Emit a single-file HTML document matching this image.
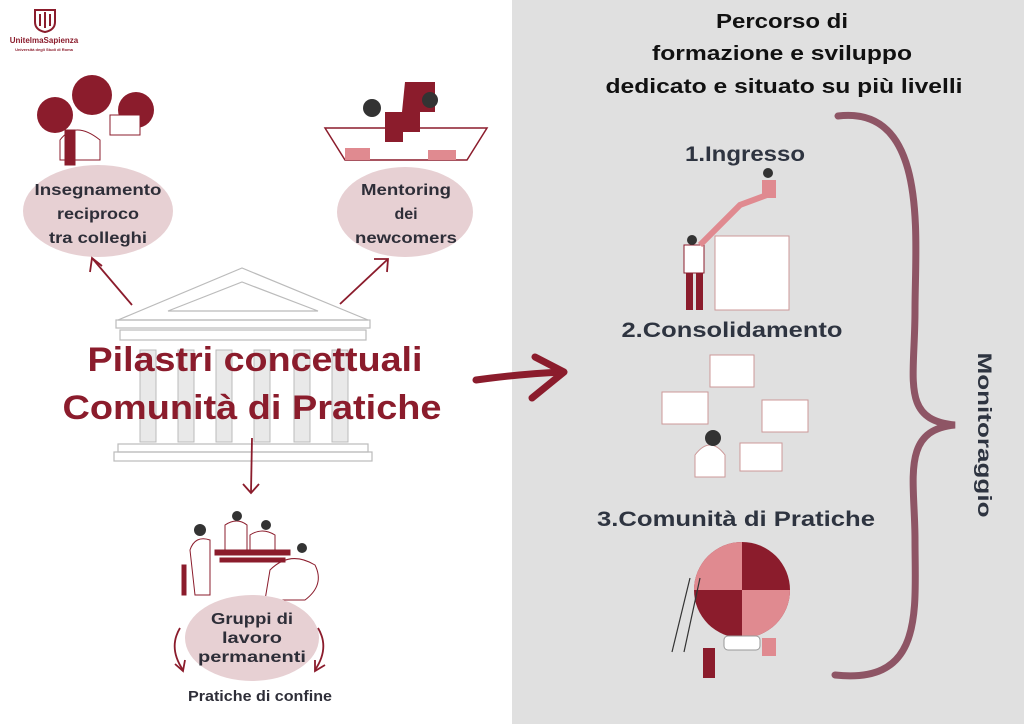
<!DOCTYPE html>
<html><head><meta charset="utf-8"><style>
html,body{margin:0;padding:0;background:#fff;}
svg{display:block;}
text{font-family:"Liberation Sans",sans-serif;font-weight:bold;}
</style></head><body>
<svg width="1024" height="724" viewBox="0 0 1024 724" xmlns="http://www.w3.org/2000/svg">
<rect x="0" y="0" width="512" height="724" fill="#ffffff"/>
<rect x="512" y="0" width="512" height="724" fill="#e0e0e0"/>

<!-- logo -->
<g fill="#8b1c2c">
<path d="M35 10 h20 v12 q0 8 -10 10 q-10 -2 -10 -10z" fill="none" stroke="#8b1c2c" stroke-width="2"/>
<rect x="39" y="14" width="2" height="12"/><rect x="44" y="12" width="2" height="16"/><rect x="49" y="14" width="2" height="12"/>
</g>
<text x="44" y="43" font-size="8" fill="#8b1c2c" text-anchor="middle">UnitelmaSapienza</text>
<text x="44" y="51" font-size="4" fill="#8b1c2c" text-anchor="middle" font-weight="normal">Università degli Studi di Roma</text>

<!-- left illustration (simplified) -->
<g fill="#8b1c2c">
<circle cx="92" cy="95" r="20"/><circle cx="55" cy="115" r="18"/><circle cx="136" cy="110" r="18"/>
</g>
<g fill="#fff" stroke="#8b1c2c" stroke-width="1">
<rect x="110" y="115" width="30" height="20"/><path d="M60 140 q15 -20 40 0 v20 h-40z"/><rect x="65" y="130" width="10" height="35" fill="#8b1c2c"/>
</g>
<!-- right illustration -->
<g>
<path d="M325 128 h162 l-20 32 h-122z" fill="none" stroke="#8b1c2c" stroke-width="1.5"/>
<path d="M405 82 h30 v30 h-15 v20 h-20 z" fill="#8b1c2c"/>
<rect x="385" y="112" width="18" height="30" fill="#8b1c2c"/>
<rect x="345" y="148" width="25" height="12" fill="#e08a90"/><rect x="428" y="150" width="28" height="10" fill="#e08a90"/>
<circle cx="372" cy="108" r="9" fill="#333"/><circle cx="430" cy="100" r="8" fill="#333"/>
</g>

<!-- group illustration -->
<g fill="none" stroke="#8b1c2c" stroke-width="1">
<rect x="215" y="550" width="75" height="5" fill="#8b1c2c"/>
<rect x="220" y="558" width="65" height="4" fill="#8b1c2c"/>
<path d="M190 550 q5 -15 20 -10 v55 h-15z"/>
<path d="M225 525 q12 -8 22 0 v30 h-22z"/>
<path d="M250 535 q12 -8 25 0 v20 h-25z"/>
<path d="M270 570 q20 -20 45 -5 q10 20 -10 35 h-40z"/>
<rect x="182" y="565" width="4" height="30" fill="#8b1c2c"/>
</g>
<g fill="#333"><circle cx="200" cy="530" r="6"/><circle cx="237" cy="516" r="5"/><circle cx="266" cy="525" r="5"/><circle cx="302" cy="548" r="5"/></g>

<!-- ellipses -->
<ellipse cx="98" cy="211" rx="75" ry="46" fill="#e7d0d3"/>
<ellipse cx="405" cy="212" rx="68" ry="45" fill="#e7d0d3"/>
<ellipse cx="252" cy="638" rx="67" ry="43" fill="#e7d0d3"/>
<g font-size="16" fill="#2e2e38" text-anchor="middle">
<text x="98" y="195" textLength="127" lengthAdjust="spacingAndGlyphs">Insegnamento</text>
<text x="98" y="219" textLength="82" lengthAdjust="spacingAndGlyphs">reciproco</text>
<text x="98" y="243" textLength="98" lengthAdjust="spacingAndGlyphs">tra colleghi</text>
<text x="406" y="195" textLength="90" lengthAdjust="spacingAndGlyphs">Mentoring</text>
<text x="406" y="219">dei</text>
<text x="406" y="243" textLength="102" lengthAdjust="spacingAndGlyphs">newcomers</text>
<text x="252" y="624" textLength="82" lengthAdjust="spacingAndGlyphs">Gruppi di</text>
<text x="252" y="643" textLength="60" lengthAdjust="spacingAndGlyphs">lavoro</text>
<text x="252" y="662" textLength="108" lengthAdjust="spacingAndGlyphs">permanenti</text>
</g>
<text x="260" y="701" font-size="15" fill="#2e2e38" text-anchor="middle" font-weight="normal" textLength="144" lengthAdjust="spacingAndGlyphs">Pratiche di confine</text>

<!-- temple -->
<g fill="none" stroke="#bbb" stroke-width="1.2">
<path d="M118 320 L242 268 L368 320 Z"/>
<path d="M168 311 L242 282 L318 311 Z"/>
<rect x="116" y="320" width="254" height="8"/>
<rect x="120" y="330" width="246" height="10"/>
<rect x="118" y="444" width="250" height="8"/>
<rect x="114" y="452" width="258" height="9"/>
</g>
<g fill="#e9e9e9" stroke="#bbb" stroke-width="1">
<rect x="140" y="350" width="16" height="92"/><rect x="178" y="350" width="16" height="92"/>
<rect x="216" y="350" width="16" height="92"/><rect x="254" y="350" width="16" height="92"/>
<rect x="294" y="350" width="16" height="92"/><rect x="332" y="350" width="16" height="92"/>
</g>
<g font-size="34" fill="#8b1c2c" text-anchor="middle">
<text x="255" y="371" textLength="335" lengthAdjust="spacingAndGlyphs">Pilastri concettuali</text>
<text x="252" y="419" textLength="379" lengthAdjust="spacingAndGlyphs">Comunità di Pratiche</text>
</g>

<!-- arrows left -->
<g fill="none" stroke="#8b1c2c" stroke-width="1.8">
<path d="M132 305 L92 258"/><path d="M90 272 L92 258 L102 266"/>
<path d="M340 304 L388 259"/><path d="M374 259 L388 259 L387 272"/>
<path d="M252 438 L251 492"/><path d="M243 484 L251 493 L259 484"/>
<path d="M180 628 q-12 20 3 42"/><path d="M175 664 L183 671 L185 660"/>
<path d="M318 628 q12 20 -3 42"/><path d="M315 660 L315 671 L325 665"/>
</g>
<path d="M476 380 Q520 374 562 372" fill="none" stroke="#8b1c2c" stroke-width="7" stroke-linecap="round"/>
<path d="M535 357 L564 372 L532 398" fill="none" stroke="#8b1c2c" stroke-width="7" stroke-linecap="round" stroke-linejoin="round"/>

<!-- right side -->
<g font-size="20" fill="#111" text-anchor="middle">
<text x="782" y="28" textLength="132" lengthAdjust="spacingAndGlyphs">Percorso di</text>
<text x="782" y="60" textLength="260" lengthAdjust="spacingAndGlyphs">formazione e sviluppo</text>
<text x="784" y="93" textLength="357" lengthAdjust="spacingAndGlyphs">dedicato e situato su più livelli</text>
</g>
<g font-size="21" fill="#2e3440" text-anchor="middle">
<text x="745" y="161" textLength="120" lengthAdjust="spacingAndGlyphs">1.Ingresso</text>
<text x="732" y="337" textLength="221" lengthAdjust="spacingAndGlyphs">2.Consolidamento</text>
<text x="736" y="526" textLength="278" lengthAdjust="spacingAndGlyphs">3.Comunità di Pratiche</text>
</g>
<text transform="translate(978,435) rotate(90)" font-size="19" fill="#2e3440" text-anchor="middle" textLength="165" lengthAdjust="spacingAndGlyphs">Monitoraggio</text>
<!-- brace -->
<path d="M838 116 C930 105 915 240 915 310 C915 380 900 420 955 425 C900 430 915 480 915 540 C915 610 925 685 835 675" fill="none" stroke="#8e5565" stroke-width="7" stroke-linecap="round"/>

<!-- ingresso illustration -->
<rect x="715" y="236" width="74" height="74" fill="#fff" stroke="#c99" stroke-width="1"/>
<g fill="#8b1c2c"><rect x="686" y="272" width="7" height="38"/><rect x="696" y="272" width="7" height="38"/></g>
<rect x="684" y="245" width="20" height="28" fill="#fff" stroke="#8b1c2c"/>
<path d="M700 245 L740 205 L775 192" stroke="#e08a90" stroke-width="6" fill="none"/>
<rect x="762" y="180" width="14" height="18" fill="#e08a90"/>
<circle cx="692" cy="240" r="5" fill="#333"/><circle cx="768" cy="173" r="5" fill="#333"/>

<!-- consolidamento illustration -->
<g fill="#fff" stroke="#c99" stroke-width="1">
<rect x="710" y="355" width="44" height="32"/><rect x="662" y="392" width="46" height="32"/>
<rect x="762" y="400" width="46" height="32"/><rect x="740" y="443" width="42" height="28"/>
<path d="M695 455 q15 -20 30 0 v22 h-30z"/>
</g>
<circle cx="713" cy="438" r="8" fill="#333"/>

<!-- comunità illustration -->
<circle cx="742" cy="590" r="48" fill="#8b1c2c"/>
<path d="M742 542 A48 48 0 0 0 694 590 L742 590 Z" fill="#e08a90"/>
<path d="M742 590 L790 590 A48 48 0 0 1 742 638 Z" fill="#e08a90"/>
<rect x="724" y="636" width="36" height="14" rx="4" fill="#fff" stroke="#999"/>
<path d="M672 652 L690 578 M684 652 L700 578" stroke="#333" stroke-width="1.2"/>
<rect x="703" y="648" width="12" height="30" fill="#8b1c2c"/>
<rect x="762" y="638" width="14" height="18" fill="#e08a90"/>
</svg>
</body></html>
